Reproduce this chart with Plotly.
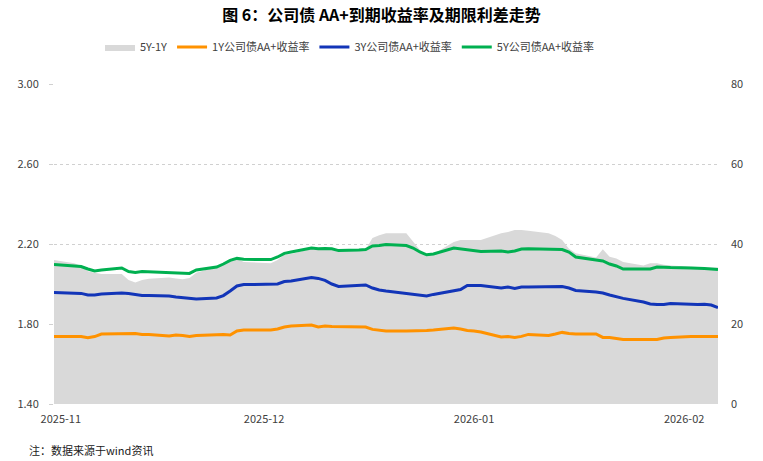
import pandas as pd
import plotly.graph_objects as go

dates = pd.bdate_range("2025-10-31", "2026-02-06")

y5 = [2.098, 2.090, 2.087, 2.075, 2.065, 2.070, 2.080, 2.062, 2.058, 2.063,
      2.062, 2.058, 2.056, 2.054, 2.053, 2.070, 2.085, 2.100, 2.118, 2.128,
      2.124, 2.122, 2.122, 2.135, 2.153, 2.160, 2.180, 2.176, 2.178, 2.176,
      2.167, 2.170, 2.172, 2.190, 2.192, 2.198, 2.192, 2.180, 2.160, 2.146,
      2.150, 2.180, 2.175, 2.170, 2.168, 2.162, 2.165, 2.160, 2.165, 2.175,
      2.176, 2.172, 2.172, 2.172, 2.160, 2.135, 2.120, 2.115, 2.100, 2.090,
      2.075, 2.073, 2.075, 2.085, 2.083, 2.082, 2.080, 2.080, 2.077, 2.075,
      2.072]

y3 = [1.957, 1.955, 1.953, 1.945, 1.945, 1.950, 1.955, 1.952, 1.948, 1.942,
      1.942, 1.940, 1.935, 1.932, 1.928, 1.925, 1.930, 1.942, 1.965, 1.990,
      1.997, 1.997, 1.998, 2.000, 2.012, 2.015, 2.033, 2.028, 2.018, 2.000,
      1.988, 1.993, 1.995, 1.980, 1.970, 1.965, 1.953, 1.947, 1.942, 1.940,
      1.948, 1.965, 1.972, 1.993, 1.993, 1.993, 1.980, 1.985, 1.978, 1.985,
      1.985, 1.985, 1.985, 1.987, 1.980, 1.968, 1.960, 1.955, 1.945, 1.935,
      1.928, 1.910, 1.900, 1.897, 1.898, 1.903, 1.898, 1.898, 1.899, 1.895,
      1.882]

y1 = [1.737, 1.737, 1.737, 1.731, 1.737, 1.750, 1.753, 1.752, 1.752, 1.748,
      1.748, 1.740, 1.745, 1.743, 1.738, 1.742, 1.748, 1.748, 1.745, 1.765,
      1.770, 1.770, 1.770, 1.775, 1.785, 1.790, 1.795, 1.785, 1.790, 1.788,
      1.788, 1.788, 1.785, 1.773, 1.768, 1.765, 1.765, 1.765, 1.768, 1.768,
      1.770, 1.780, 1.775, 1.768, 1.765, 1.760, 1.735, 1.737, 1.733, 1.738,
      1.748, 1.743, 1.750, 1.758, 1.752, 1.750, 1.750, 1.733, 1.733, 1.728,
      1.723, 1.723, 1.723, 1.723, 1.730, 1.733, 1.738, 1.738, 1.740, 1.738,
      1.738]

spread = [36.0, 35.2, 34.5, 33.2, 32.8, 32.5, 32.5, 31.0, 30.4, 31.0,
          31.3, 31.6, 31.4, 31.2, 31.5, 32.8, 34.3, 35.0, 36.0, 36.4,
          35.5, 35.2, 35.2, 36.0, 37.4, 37.5, 38.8, 38.8, 38.9, 38.8,
          38.7, 38.5, 38.6, 41.5, 42.2, 42.7, 42.7, 40.5, 38.5, 37.0,
          37.5, 40.5, 41.0, 41.0, 41.0, 41.0, 42.7, 43.0, 43.5, 43.5,
          43.3, 42.7, 42.0, 41.0, 38.8, 37.7, 36.6, 38.7, 36.8, 36.4,
          35.5, 34.6, 35.2, 35.2, 34.8, 34.6, 34.3, 34.2, 34.2, 34.1,
          34.1]

month_ticks = ["2025-11-01", "2025-12-01", "2026-01-01", "2026-02-01"]
month_labels = ["2025-11", "2025-12", "2026-01", "2026-02"]

FONT = "Noto Sans CJK SC"

fig = go.Figure()
fig.add_trace(go.Scatter(x=dates, y=spread, name="5Y-1Y", mode="lines",
                         line=dict(width=0, color="#d9d9d9"), fill="tozeroy",
                         fillcolor="#d9d9d9", yaxis="y"))
fig.add_trace(go.Scatter(x=dates, y=y1, name="1Y公司债AA+收益率", mode="lines",
                         line=dict(width=3, color="#FF9200"), yaxis="y2"))
fig.add_trace(go.Scatter(x=dates, y=y3, name="3Y公司债AA+收益率", mode="lines",
                         line=dict(width=3, color="#1235B8"), yaxis="y2"))
fig.add_trace(go.Scatter(x=dates, y=y5, name="5Y公司债AA+收益率", mode="lines",
                         line=dict(width=3, color="#00B050"), yaxis="y2"))

W, H = 763, 461
L, R, T, B = 54, 45, 84, 57
PW, PH = W - L - R, H - T - B

fig.update_layout(
    width=W, height=H,
    margin=dict(l=L, r=R, t=T, b=B, autoexpand=False),
    paper_bgcolor="white", plot_bgcolor="white",
    font=dict(family=FONT, size=11, color="#404040"),
    title=dict(text="<b>图 6：公司债 AA+到期收益率及期限利差走势</b>",
               x=0.5, xanchor="center", y=1 - 15 / H, yanchor="middle",
               font=dict(family=FONT, size=16, color="#000000")),
    showlegend=True,
    legend=dict(orientation="h", x=(100 - L) / PW, xanchor="left",
                y=1 + 37 / PH, yanchor="middle",
                font=dict(family=FONT, size=11, color="#404040"),
                itemwidth=30, tracegroupgap=0),
    xaxis=dict(type="date", range=["2025-10-31", "2026-02-06"],
               tickvals=month_ticks, ticktext=month_labels,
               showgrid=False, zeroline=False, showline=False,
               ticks="outside", ticklen=5, tickcolor="rgba(0,0,0,0)",
               automargin=False,
               tickfont=dict(size=11, color="#404040")),
    yaxis=dict(side="right", range=[0, 80], tickvals=[0, 20, 40, 60, 80],
               showgrid=True, gridcolor="#d0d0d0", griddash="dot", gridwidth=1,
               zeroline=False, showline=False, ticks="",
               ticklabelstandoff=12, automargin=False,
               tickfont=dict(size=11, color="#404040")),
    yaxis2=dict(overlaying="y", side="left", range=[1.4, 3.0],
                tickvals=[1.4, 1.8, 2.2, 2.6, 3.0], tickformat=".2f",
                showgrid=False, zeroline=False, showline=False,
                ticks="outside", ticklen=4, tickcolor="#d0d0d0",
                ticklabelstandoff=8, automargin=False,
                tickfont=dict(size=11, color="#404040")),
)

fig.add_annotation(text="注：数据来源于wind资讯", xref="paper", yref="paper",
                   x=(27 - L) / PW, y=(H - B - 450) / PH, xanchor="left", yanchor="middle",
                   showarrow=False, font=dict(family=FONT, size=11, color="#202020"))

fig.write_html("out.html", config={"displayModeBar": False},
               post_script="document.body.style.margin='0';document.body.style.padding='0';")
